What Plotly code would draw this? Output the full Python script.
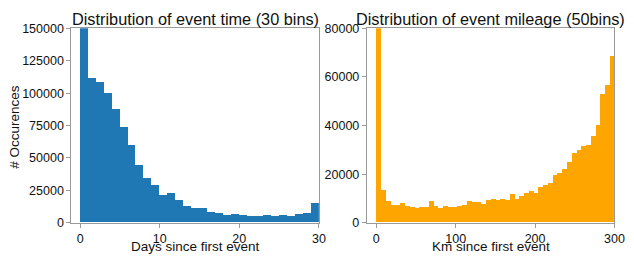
import numpy as np
import plotly.graph_objects as go

# Histogram of event time: 30 bins over 0..30 days
time_bin_start = 0
time_bin_end = 30
time_counts = [168000, 111500, 108200, 99500, 87500, 73600, 60000, 44400, 34100, 28800,
               21000, 23100, 17600, 12400, 10900, 10900, 8400, 7500, 5400, 6700,
               6100, 5350, 5350, 5600, 4900, 6100, 5100, 6200, 7400, 15400]

# Histogram of event mileage: 50 bins over 0..300 km
km_bin_start = 0
km_bin_end = 300
km_counts = [95000, 13500, 8900, 7350, 7150, 7930, 6850, 6350, 5980, 6500,
             6500, 8710, 6600, 5980, 6760, 6240, 6500, 6890, 7150, 8710,
             8320, 8580, 7800, 9360, 9490, 9360, 9620, 9230, 11830, 9750,
             10700, 12000, 12800, 12000, 14600, 15600, 16300, 19630, 20410, 21840,
             24830, 28730, 29900, 31590, 31850, 35620, 40300, 53040, 56680, 68510]

time_ticks = [0, 10, 20, 30]
time_yticks = [0, 25000, 50000, 75000, 100000, 125000, 150000]
km_ticks = [0, 100, 200, 300]
km_yticks = [0, 20000, 40000, 60000, 80000]

t_edges = np.linspace(time_bin_start, time_bin_end, len(time_counts) + 1)
k_edges = np.linspace(km_bin_start, km_bin_end, len(km_counts) + 1)
t_centers = (t_edges[:-1] + t_edges[1:]) / 2
k_centers = (k_edges[:-1] + k_edges[1:]) / 2

W, H = 634, 268
FONT = "Liberation Sans, Arial, Helvetica, sans-serif"
SPINE = "#9a9a9a"

def px(xp):
    return xp / W

def py(yp):
    return 1 - yp / H

fig = go.Figure()
fig.add_trace(go.Bar(x=t_centers, y=time_counts, width=np.diff(t_edges),
                     marker=dict(color="#1f77b4", line=dict(width=0)),
                     xaxis="x", yaxis="y", showlegend=False, hoverinfo="skip"))
fig.add_trace(go.Bar(x=k_centers, y=km_counts, width=np.diff(k_edges),
                     marker=dict(color="#ffa500", line=dict(width=0)),
                     xaxis="x2", yaxis="y2", showlegend=False, hoverinfo="skip"))

axis_common = dict(showline=True, mirror=True, linecolor=SPINE, linewidth=1,
                   ticks="outside", ticklen=4, tickcolor=SPINE, tickwidth=1,
                   showgrid=False, zeroline=False, tickformat="d",
                   tickfont=dict(family=FONT, size=12.5, color="#111"))

y_dom = [py(227.7), py(22.5)]

def note(text, x, y, size, angle=0):
    return dict(text=text, x=px(x), y=py(y), textangle=angle, borderpad=0,
                xref="paper", yref="paper", xanchor="center", yanchor="middle",
                showarrow=False, font=dict(family=FONT, size=size, color="#111"))

fig.update_layout(
    width=W, height=H,
    margin=dict(l=0, r=0, t=0, b=0),
    paper_bgcolor="white", plot_bgcolor="white",
    bargap=0, barmode="overlay",
    font=dict(family=FONT, color="#111"),
    xaxis=dict(domain=[px(72.5), px(324)], range=[-1.1, 30], anchor="y",
               tickvals=time_ticks, **axis_common),
    yaxis=dict(domain=y_dom, range=[0, 150000], anchor="x",
               tickvals=time_yticks, **axis_common),
    xaxis2=dict(domain=[px(372.7), px(624.3)], range=[-11.9, 300], anchor="y2",
                tickvals=km_ticks, **axis_common),
    yaxis2=dict(domain=y_dom, range=[0, 80000], anchor="x2",
                tickvals=km_yticks, **axis_common),
    annotations=[
        note("Distribution of event time (30 bins)", 198.3, 12.5, 16.3),
        note("Distribution of event mileage (50bins)", 498.5, 12.5, 16.3),
        note("Days since first event", 198.5, 253, 13.5),
        note("Km since first event", 499, 253, 13.5),
        note("# Occurences", 14.5, 126, 13.5, -90),
    ],
)

fig.write_html("out.html", config={"displayModeBar": False},
               post_script="document.body.style.margin='0';document.body.style.overflow='hidden';")
